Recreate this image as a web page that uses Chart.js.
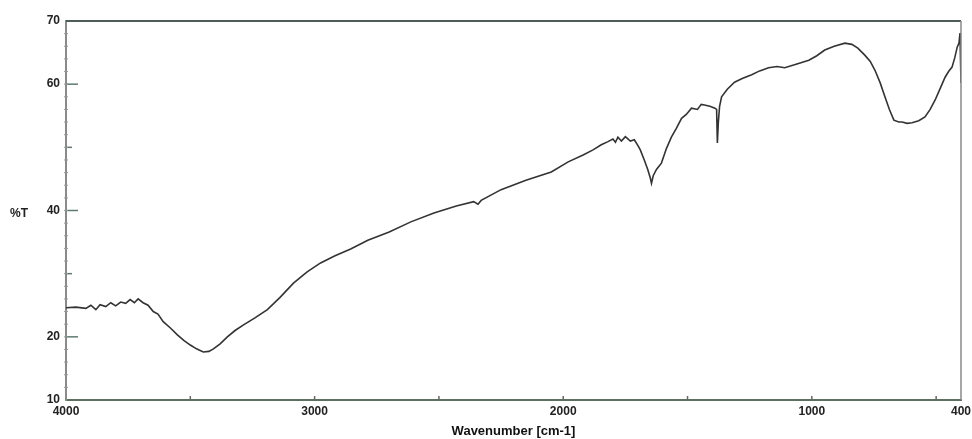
<!DOCTYPE html>
<html>
<head>
<meta charset="utf-8">
<script src="https://cdn.jsdelivr.net/npm/chart.js@4.4.1/dist/chart.umd.min.js"></script>
<style>
    html, body { margin: 0; padding: 0; background: #fff; }
    #wrap { width: 972px; height: 439px; }
</style>
</head>
<body>
<div id="wrap"><canvas id="irChart" width="972" height="439"></canvas></div>
<script>
// wavenumber (cm-1)
const wavenumbers = [
    4000, 3960, 3920, 3900, 3880, 3863, 3840, 3820, 3800, 3780, 3760, 3742, 3725, 3710, 3690, 3670,
    3649, 3630, 3609, 3580, 3552, 3525, 3500, 3475, 3448, 3425, 3407, 3380, 3351, 3320, 3286, 3240,
    3190, 3140, 3085, 3030, 2976, 2920, 2855, 2786, 2700, 2613, 2520, 2430, 2360, 2343, 2330, 2250,
    2150, 2048, 1980, 1920, 1880, 1847, 1820, 1800, 1790, 1780, 1766, 1750, 1730, 1714, 1700, 1690,
    1674, 1660, 1650, 1645, 1638, 1625, 1605, 1585, 1565, 1545, 1524, 1505, 1484, 1460, 1445, 1432,
    1410, 1390, 1383, 1380, 1376, 1371, 1363, 1340, 1311, 1280, 1242, 1210, 1174, 1140, 1109, 1060,
    1012, 980, 948, 910, 867, 839, 815, 787, 765, 746, 725, 706, 688, 670, 650, 637,
    617, 597, 570, 545, 524, 504, 484, 464, 450, 436, 425, 415, 408, 404, 402, 400
];
// transmittance (%T)
const transmittance = [
    24.6, 24.7, 24.5, 25.0, 24.3, 25.1, 24.8, 25.4, 24.9, 25.5, 25.3, 25.9, 25.4, 26.0, 25.4, 25.0,
    24.0, 23.6, 22.4, 21.4, 20.3, 19.4, 18.7, 18.1, 17.6, 17.7, 18.1, 18.9, 20.0, 21.0, 21.9, 23.0,
    24.3, 26.2, 28.5, 30.3, 31.7, 32.8, 33.9, 35.3, 36.6, 38.2, 39.6, 40.7, 41.4, 41.0, 41.6, 43.3,
    44.8, 46.1, 47.7, 48.8, 49.6, 50.4, 50.9, 51.3, 50.8, 51.6, 51.0, 51.7, 51.0, 51.2, 50.3, 49.6,
    48.0, 46.5, 45.2, 44.3, 45.5, 46.5, 47.5, 49.8, 51.6, 53.0, 54.6, 55.2, 56.2, 56.0, 56.8, 56.7,
    56.5, 56.2, 56.0, 50.7, 54.0, 56.5, 58.0, 59.2, 60.3, 60.9, 61.5, 62.1, 62.6, 62.8, 62.6, 63.2,
    63.8, 64.5, 65.4, 66.0, 66.5, 66.3, 65.7, 64.6, 63.6, 62.2, 60.2, 58.0, 56.0, 54.3, 54.0, 54.0,
    53.8, 53.9, 54.2, 54.8, 56.0, 57.5, 59.3, 61.1, 62.0, 62.7, 64.2, 65.9, 66.5, 68.1, 64.0, 60.2
];

const xTicks = [4000, 3500, 3000, 2500, 2000, 1500, 1000, 500, 400];
const xLabels = [4000, 3000, 2000, 1000, 400];
const yTicks = [10, 20, 30, 40, 50, 60, 70];
const yLabels = [10, 20, 40, 60, 70];

const FONT = '"Liberation Sans", Arial, sans-serif';
const INK = '#333';

// frame + inward tick marks, like the old instrument plot
const framePlugin = {
    id: 'frame',
    afterDraw(chart) {
        const ctx = chart.ctx;
        const area = chart.chartArea;
        const xs = chart.scales.x;
        const ys = chart.scales.y;
        ctx.save();

        // top & right border
        ctx.strokeStyle = '#4d5e58';
        ctx.lineWidth = 2;
        ctx.beginPath();
        ctx.moveTo(area.left, area.top);
        ctx.lineTo(area.right, area.top);
        ctx.stroke();
        ctx.strokeStyle = '#888';
        ctx.lineWidth = 1.5;
        ctx.beginPath();
        ctx.moveTo(area.right, area.top);
        ctx.lineTo(area.right, area.bottom);
        ctx.stroke();

        // y ticks (major inward, minor every 2 %T)
        ctx.strokeStyle = '#5f7a70';
        ctx.lineWidth = 1.5;
        yTicks.forEach(v => {
            if (v === 10 || v === 70) return;
            const py = ys.getPixelForValue(v);
            const len = (v % 20 === 0) ? 12 : 6;
            ctx.beginPath();
            ctx.moveTo(area.left, py);
            ctx.lineTo(area.left + len, py);
            ctx.stroke();
        });
        ctx.strokeStyle = '#999';
        ctx.lineWidth = 1;
        for (let v = 12; v < 70; v += 2) {
            const py = ys.getPixelForValue(v);
            ctx.beginPath();
            ctx.moveTo(area.left - 2, py);
            ctx.lineTo(area.left + 2, py);
            ctx.stroke();
        }

        // x ticks (upward from bottom)
        ctx.strokeStyle = '#666';
        ctx.lineWidth = 1.5;
        xTicks.forEach(v => {
            if (v === 4000 || v === 400) return;
            const px = xs.getPixelForValue(v);
            ctx.beginPath();
            ctx.moveTo(px, area.bottom);
            ctx.lineTo(px, area.bottom - 4);
            ctx.stroke();
        });

        // %T label, horizontal, beside the 40 tick
        ctx.fillStyle = '#222';
        ctx.font = 'bold 12px ' + FONT;
        ctx.textAlign = 'left';
        ctx.textBaseline = 'middle';
        ctx.fillText('%T', 10, ys.getPixelForValue(40) + 3);
        ctx.restore();
    }
};

const ctx = document.getElementById('irChart').getContext('2d');
new Chart(ctx, {
    type: 'line',
    data: {
        datasets: [{
            data: wavenumbers.map((w, i) => ({ x: w, y: transmittance[i] })),
            borderColor: INK,
            borderWidth: 1.6,
            pointRadius: 0,
            tension: 0,
            fill: false
        }]
    },
    options: {
        responsive: false,
        animation: false,
        layout: { padding: { top: 21, right: 11, left: 0, bottom: 0 } },
        plugins: {
            legend: { display: false },
            tooltip: { enabled: false }
        },
        scales: {
            x: {
                type: 'linear',
                reverse: true,
                min: 400,
                max: 4000,
                afterBuildTicks: s => { s.ticks = xTicks.map(v => ({ value: v })); },
                afterFit: s => { s.height = 39; s.paddingLeft = 0; s.paddingRight = 0; },
                grid: { display: false, drawTicks: false },
                border: { display: true, color: '#5c6f60', width: 2 },
                ticks: {
                    autoSkip: false,
                    maxRotation: 0,
                    padding: 4,
                    color: '#222',
                    font: { family: FONT, size: 12, weight: 'bold' },
                    callback: v => xLabels.includes(v) ? String(v) : ''
                },
                title: {
                    display: true,
                    text: 'Wavenumber [cm-1]',
                    color: '#111',
                    padding: { top: 0, bottom: 0 },
                    font: { family: FONT, size: 13, weight: 'bold' }
                }
            },
            y: {
                min: 10,
                max: 70,
                afterBuildTicks: s => { s.ticks = yTicks.map(v => ({ value: v })); },
                afterFit: s => { s.width = 66; },
                grid: { display: false, drawTicks: false },
                border: { display: true, color: '#8a8a8a', width: 2 },
                ticks: {
                    padding: 6,
                    color: '#222',
                    font: { family: FONT, size: 12, weight: 'bold' },
                    callback: v => yLabels.includes(v) ? String(v) : ''
                }
            }
        }
    },
    plugins: [framePlugin]
});
</script>
</body>
</html>
